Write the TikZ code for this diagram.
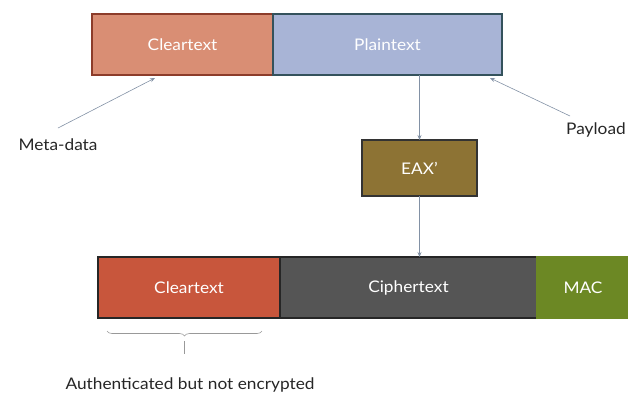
\documentclass[tikz,border=0pt]{standalone}
\usepackage{fontspec}
\setmainfont{Lato}[FakeStretch=1.08]
\usetikzlibrary{decorations.pathreplacing,arrows.meta}
\definecolor{clearA}{RGB}{217,142,116}
\definecolor{plainA}{RGB}{168,180,214}
\definecolor{plainB}{RGB}{52,82,92}
\definecolor{clearB}{RGB}{200,86,60}
\definecolor{cipher}{RGB}{85,85,85}
\definecolor{mac}{RGB}{108,136,36}
\definecolor{eax}{RGB}{141,115,52}
\definecolor{conn}{RGB}{130,145,165}
\begin{document}
\begin{tikzpicture}[x=1pt,y=-1pt,
  box/.style={draw=#1,line width=1.2pt,minimum height=61pt,text=white,font=\fontsize{16}{18}\selectfont,inner sep=0pt,outer sep=0pt},
  lbl/.style={font=\fontsize{16}{18}\selectfont,text=black!85},
  conn/.style={draw=conn,line width=0.6pt,-{Stealth[length=5pt,width=4pt]}},
  bracestyle/.style={draw=gray!80,line width=0.6pt,decorate,decoration={brace,mirror,amplitude=5pt}}]
\useasboundingbox (0,0) rectangle (628,408);
\node[box=clearB!70!black,fill=clearA,minimum width=181pt] (ct1) at (182.5,44.5) {Cleartext};
\node[box=plainB,fill=plainA,minimum width=229pt] (pt) at (387.5,44.5) {Plaintext};
\node[box=black!80,fill=eax,minimum width=115pt,minimum height=56pt] (eax) at (419.5,168) {EAX'};
\node[box=black!85,fill=clearB,minimum width=182pt] (ct2) at (189,287.5) {Cleartext};
\node[box=black!85,fill=cipher,minimum width=257pt] (ciph) at (408.5,287.5) {Ciphertext};
\node[box=mac,fill=mac,minimum width=92pt] (mac) at (583,287.5) {MAC};
\node[lbl] (meta) at (58,145) {Meta-data};
\node[lbl] (pay) at (596,130) {Payload};
\node[lbl] (auth) at (190,385) {Authenticated but not encrypted};
\coordinate (mfrom) at (58,128);
\coordinate (pfrom) at (570,116);
\coordinate (mto) at (155,78);
\coordinate (pto) at (490,78);
\coordinate (bl) at (107,331);
\coordinate (br) at (262,331);
\coordinate (tk1) at (184.5,341);
\coordinate (tk2) at (184.5,354);
\draw[conn] (mfrom) -- (mto);
\draw[conn] (pfrom) -- (pto);
\draw[conn] (pt.south -| eax.north) -- (eax.north);
\draw[conn] (eax.south) -- (eax.south |- ciph.north);
\draw[bracestyle] (bl) -- (br);
\draw[draw=gray!80,line width=0.6pt] (tk1) -- (tk2);
\end{tikzpicture}
\end{document}
